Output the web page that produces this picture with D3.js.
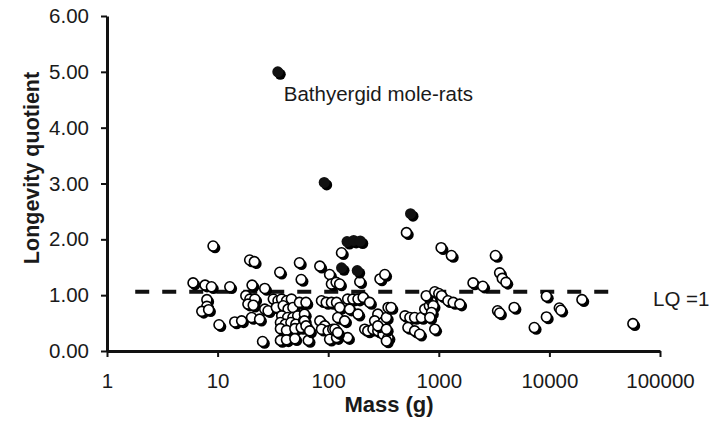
<!DOCTYPE html>
<html>
<head>
<meta charset="utf-8">
<script src="https://cdn.jsdelivr.net/npm/d3@7"></script>
<style>
	body { margin: 0; background: #fff; }
	svg text { font-family: "Liberation Sans", Arial, sans-serif; fill: #1a1a1a; }
</style>
</head>
<body>
<div id="chart"></div>
<script>
// tick values for both axes
const xTicks = [1, 10, 100, 1000, 10000, 100000];
const yTicks = [0, 1, 2, 3, 4, 5, 6];

// open markers: [mass (g), longevity quotient]
const openPoints = [
	[6.0, 1.22], [7.7, 1.18], [8.8, 1.15], [9.1, 1.88], [8.0, 0.92], [8.0, 0.80],
	[7.2, 0.71], [8.3, 0.74], [10.3, 0.47], [12.9, 1.15], [14.3, 0.52],
	[19.5, 1.63], [21.5, 1.60], [20.5, 1.18], [26.7, 1.12], [18.0, 0.99], [19.6, 0.93],
	[21.7, 0.93], [18.8, 0.84], [21.0, 0.82], [16.5, 0.54], [20.3, 0.60], [24.0, 0.57],
	[26.7, 0.75], [28.6, 0.72], [25.5, 0.17],
	[36.5, 1.41], [55, 1.58], [57, 1.28], [31.9, 0.93], [35.2, 0.90], [37.9, 0.93],
	[42.1, 0.90], [46.5, 0.93], [34, 0.78], [39.2, 0.81], [43.4, 0.75], [48, 0.78],
	[55, 0.87], [63, 0.87], [38, 0.63], [43, 0.60], [48, 0.60], [53, 0.63],
	[37, 0.51], [41, 0.48], [46, 0.51], [51, 0.48], [60, 0.55], [37, 0.40],
	[42, 0.37], [50, 0.40], [57, 0.42], [37, 0.19], [42, 0.20], [50, 0.22],
	[66, 0.19], [61, 0.66], [61, 0.54], [63, 0.45], [68, 0.36],
	[84, 1.52], [103, 1.37], [107, 1.20], [118, 1.23], [132, 1.76], [127, 1.20],
	[193, 1.24], [87, 0.90], [96, 0.87], [107, 0.87], [119, 0.87], [84, 0.54],
	[93, 0.45], [87, 0.39], [100, 0.36], [110, 0.39], [103, 0.21], [119, 0.24],
	[150, 0.93], [167, 0.93], [186, 0.93], [207, 0.96], [237, 0.87], [127, 0.78],
	[156, 0.75], [186, 0.66], [122, 0.60], [141, 0.54], [150, 0.24], [115, 0.39],
	[122, 0.33], [214, 0.39], [228, 0.36],
	[254, 0.39], [281, 0.36], [313, 0.30], [348, 0.24], [336, 0.18], [281, 0.66],
	[263, 0.54], [313, 0.51], [336, 0.60], [348, 0.78], [370, 0.78], [281, 0.45],
	[336, 0.39], [294, 1.29], [325, 1.37], [510, 2.12], [495, 0.63], [548, 0.60],
	[605, 0.60], [695, 0.60], [526, 0.42], [605, 0.36], [672, 0.30], [747, 0.75],
	[822, 0.81], [852, 0.90], [770, 0.99], [920, 0.39], [920, 1.06],
	[1050, 1.85], [1300, 1.71], [1000, 1.03], [1060, 0.99], [1210, 0.90], [1350, 0.87],
	[1550, 0.84], [890, 0.81], [860, 0.69], [830, 0.60], [2040, 1.22], [2500, 1.16],
	[3250, 1.71], [3550, 1.40], [3750, 1.30], [4050, 1.23], [3400, 0.72], [3550, 0.68],
	[4800, 0.78], [7300, 0.42], [9400, 0.98], [9400, 0.61], [12300, 0.77], [12700, 0.73],
	[19700, 0.92], [56900, 0.49]
];

// filled markers: bathyergid mole-rats
const molePoints = [
	[35, 5.00], [92, 3.02], [555, 2.46], [148, 1.96], [170, 1.98], [195, 1.97],
	[132, 1.49], [183, 1.44]
];

// LQ = 1 reference line
const lqValue = 1.06;
const lqFrom = 1.8;
const lqTo = 37000;

const width = 716;
const height = 422;

const svg = d3
	.select("#chart")
	.append("svg")
	.attr("width", width)
	.attr("height", height);

const x = d3.scaleLog().domain([1, 100000]).range([107, 660]);
const y = d3.scaleLinear().domain([0, 6]).range([351, 16]);

// axes
const yAxis = svg
	.append("g")
	.attr("transform", `translate(${x(1)},0)`)
	.call(
		d3.axisLeft(y)
			.tickValues(yTicks)
			.tickFormat(d3.format(".2f"))
			.tickSize(6)
			.tickSizeOuter(0)
			.tickPadding(12),
	);

const xAxis = svg
	.append("g")
	.attr("transform", `translate(0,${y(0)})`)
	.call(
		d3.axisBottom(x)
			.tickValues(xTicks)
			.tickFormat(d3.format("d"))
			.tickSize(6)
			.tickSizeOuter(0)
			.tickPadding(16),
	);

for (const g of [xAxis, yAxis]) {
	g.select(".domain").attr("stroke", "#111").attr("stroke-width", 3);
	g.selectAll(".tick line").attr("stroke", "#111").attr("stroke-width", 2);
	g.selectAll(".tick text")
		.attr("font-size", 20.5)
		.attr("font-family", "Liberation Sans, Arial, sans-serif")
		.attr("fill", "#1a1a1a");
}

// axis titles
svg.append("text")
	.attr("x", 389)
	.attr("y", 412)
	.attr("text-anchor", "middle")
	.attr("font-size", 22)
	.attr("font-weight", "bold")
	.text("Mass (g)");

svg.append("text")
	.attr("transform", "translate(39,168) rotate(-90)")
	.attr("text-anchor", "middle")
	.attr("font-size", 21.5)
	.attr("font-weight", "bold")
	.text("Longevity quotient");

// dashed LQ = 1 line
svg.append("line")
	.attr("x1", x(lqFrom))
	.attr("x2", x(lqTo))
	.attr("y1", y(lqValue))
	.attr("y2", y(lqValue))
	.attr("stroke", "#111")
	.attr("stroke-width", 4)
	.attr("stroke-dasharray", "14,13");

svg.append("text")
	.attr("x", 653)
	.attr("y", 306)
	.attr("font-size", 20.5)
	.text("LQ =1");

// markers, each one drawn with its own drop shadow
const marks = svg.append("g");

const openG = marks
	.selectAll(".open")
	.data(openPoints)
	.join("g")
	.attr("class", "open")
	.attr("transform", (d) => `translate(${x(d[0])},${y(d[1])})`);

openG.append("circle")
	.attr("cx", 2)
	.attr("cy", 2)
	.attr("r", 5.3)
	.attr("fill", "#000");

openG.append("circle")
	.attr("r", 5)
	.attr("fill", "#fff")
	.attr("stroke", "#000")
	.attr("stroke-width", 1.6);

const moleG = marks
	.selectAll(".mole")
	.data(molePoints)
	.join("g")
	.attr("class", "mole")
	.attr("transform", (d) => `translate(${x(d[0])},${y(d[1])})`);

moleG.append("circle")
	.attr("cx", 2.5)
	.attr("cy", 2.5)
	.attr("r", 5.5)
	.attr("fill", "#000");

moleG.append("circle")
	.attr("r", 5.5)
	.attr("fill", "#111");

// annotation next to the top mole-rat
svg.append("text")
	.attr("x", x(molePoints[0][0]) + 6)
	.attr("y", y(molePoints[0][1]) + 29)
	.attr("font-size", 20.5)
	.text("Bathyergid mole-rats");
</script>
</body>
</html>
